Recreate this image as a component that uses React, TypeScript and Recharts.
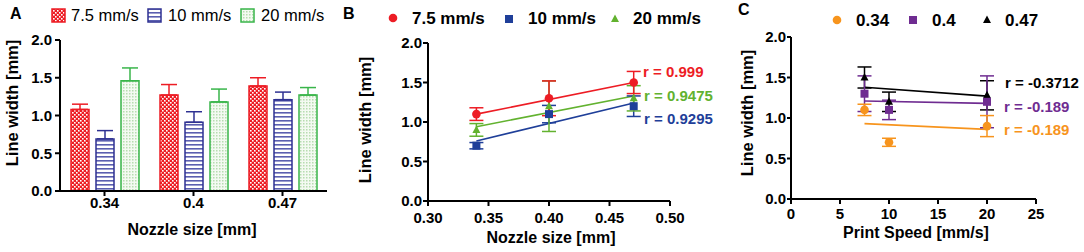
import React from 'react';
import { BarChart, Bar, ComposedChart, Scatter, Line, XAxis, YAxis, ErrorBar } from 'recharts';

const FONT = '"Liberation Sans", Arial, sans-serif';

// A: bar chart, line width per nozzle size
const nozzleSizes = ['0.34', '0.4', '0.47'];
const barWidth75 = [1.08, 1.27, 1.39];
const barWidth10 = [0.69, 0.91, 1.21];
const barWidth20 = [1.46, 1.18, 1.27];
const barErr75 = [0.07, 0.14, 0.11];
const barErr10 = [0.11, 0.14, 0.1];
const barErr20 = [0.17, 0.17, 0.1];

// B: line width vs nozzle size
const nozzleX = [0.34, 0.4, 0.47];
const lwB75 = [1.1, 1.3, 1.5];
const lwB10 = [0.7, 1.1, 1.2];
const lwB20 = [0.9, 1.2, 1.3];
const errB75 = [0.08, 0.22, 0.14];
const errB10 = [0.04, 0.11, 0.13];
const errB20 = [0.08, 0.32, 0.16];
const fitXB = [0.34, 0.47];
const fitB75 = [1.1, 1.5];
const fitB10 = [0.76, 1.24];
const fitB20 = [0.94, 1.33];
const nozzleTicks = [0.3, 0.35, 0.4, 0.45, 0.5];

// C: line width vs print speed
const speeds = [7.5, 10, 20];
const lwC034 = [1.1, 0.7, 0.9];
const lwC04 = [1.3, 1.1, 1.2];
const lwC047 = [1.5, 1.2, 1.28];
const errC034 = [0.07, 0.05, 0.13];
const errC04 = [0.22, 0.12, 0.32];
const errC047 = [0.13, 0.12, 0.18];
const fitXC = [7.5, 20];
const fitC034 = [0.93, 0.86];
const fitC04 = [1.21, 1.18];
const fitC047 = [1.38, 1.27];
const speedTicks = [0, 5, 10, 15, 20, 25];

const widthTicks = [0, 0.5, 1, 1.5, 2];

const RED = '#ed1c24';
const NAVY = '#2e3192';
const GREEN = '#39b54a';
const BLUE_B = '#1f3f99';
const GREEN_B = '#62b22f';
const ORANGE = '#f7941d';
const PURPLE = '#6f2c91';

const barData = nozzleSizes.map((n, i) => ({
  n,
  v75: barWidth75[i], e75: barErr75[i],
  v10: barWidth10[i], e10: barErr10[i],
  v20: barWidth20[i], e20: barErr20[i],
}));

const pts = (xs: number[], ys: number[], es?: number[]) =>
  xs.map((x, i) => ({ x, y: ys[i], e: es ? es[i] : 0 }));

const tickStyle = { fill: '#000', fontSize: 15, fontWeight: 700, fontFamily: FONT };
const axisLine = { stroke: '#000', strokeWidth: 2 };

// point markers, sized like the original plot
const dotShape = (kind: string) => (p: any) => {
  const { cx, cy, fill } = p;
  if (kind === 'circle') return <circle cx={cx} cy={cy} r={4.3} fill={fill} />;
  if (kind === 'square') return <rect x={cx - 4} y={cy - 4} width={8} height={8} fill={fill} />;
  return <path d={`M${cx} ${cy - 4.5} L${cx + 4} ${cy + 3} L${cx - 4} ${cy + 3} Z`} fill={fill} />;
};

const Txt = ({ x, cy, size = 15, bold = true, color = '#000', center = false, children }: any) => (
  <div
    style={{
      position: 'absolute', left: x, top: cy, fontSize: size, fontWeight: bold ? 700 : 400,
      color, fontFamily: FONT, lineHeight: 1, whiteSpace: 'nowrap',
      transform: center ? 'translate(-50%, -50%)' : 'translateY(-50%)',
    }}
  >
    {children}
  </div>
);

const YTitle = ({ cx, cy }: { cx: number; cy: number }) => (
  <div
    style={{
      position: 'absolute', left: cx, top: cy, fontSize: 16.5, fontWeight: 700, fontFamily: FONT,
      lineHeight: 1, whiteSpace: 'nowrap', transform: 'translate(-50%, -50%) rotate(-90deg)',
    }}
  >
    Line width [mm]
  </div>
);

const Marker = ({ cx, cy, kind, color }: { cx: number; cy: number; kind: string; color: string }) => (
  <svg width={12} height={12} style={{ position: 'absolute', left: cx - 6, top: cy - 6 }}>
    {kind === 'circle' && <circle cx={6} cy={6} r={4.3} fill={color} />}
    {kind === 'square' && <rect x={2} y={2} width={8} height={8} fill={color} />}
    {kind === 'triangle' && <path d="M6 1.5 L10 9 L2 9 Z" fill={color} />}
  </svg>
);

const Swatch = ({ x, pattern, color }: { x: number; pattern: string; color: string }) => (
  <svg width={15} height={15} style={{ position: 'absolute', left: x, top: 8 }}>
    <rect x={1} y={1} width={13} height={13} fill={`url(#${pattern})`} stroke={color} strokeWidth={1.5} />
  </svg>
);

const Patterns = () => (
  <svg width={0} height={0} style={{ position: 'absolute' }}>
    <defs>
      <pattern id="patRed" width={4} height={4} patternUnits="userSpaceOnUse">
        <rect width={4} height={4} fill={RED} />
        <rect width={1.6} height={1.6} fill="#fff" />
        <rect x={2} y={2} width={1.6} height={1.6} fill="#fff" />
      </pattern>
      <pattern id="patBlue" width={4} height={4} patternUnits="userSpaceOnUse">
        <rect width={4} height={4} fill="#fff" />
        <rect y={0} width={4} height={1.6} fill="#5b5fb0" />
      </pattern>
      <pattern id="patGreen" width={3} height={3} patternUnits="userSpaceOnUse">
        <rect width={3} height={3} fill="#f4faf2" />
        <rect width={1.5} height={1.5} fill="#b7ddb0" />
      </pattern>
    </defs>
  </svg>
);

const PanelA = () => (
  <div style={{ position: 'absolute', left: 0, top: 0 }}>
    <BarChart width={340} height={252} data={barData} barSize={18} barGap={7}
      margin={{ top: 40, right: 13, left: 0, bottom: 21 }}>
      <XAxis dataKey="n" height={40} tick={tickStyle} axisLine={axisLine} tickLine={axisLine}
        tickSize={5} tickMargin={1} />
      <YAxis width={60} domain={[0, 2]} ticks={widthTicks} tick={tickStyle} axisLine={axisLine}
        tickLine={axisLine} tickSize={5} tickMargin={3} tickFormatter={(v: number) => v.toFixed(1)} />
      <Bar dataKey="v75" fill="url(#patRed)" stroke={RED} strokeWidth={1.5} isAnimationActive={false}>
        <ErrorBar dataKey={(d: any) => [0, d.e75]} width={8} stroke={RED} strokeWidth={1.5} />
      </Bar>
      <Bar dataKey="v10" fill="url(#patBlue)" stroke={NAVY} strokeWidth={1.5} isAnimationActive={false}>
        <ErrorBar dataKey={(d: any) => [0, d.e10]} width={8} stroke={NAVY} strokeWidth={1.5} />
      </Bar>
      <Bar dataKey="v20" fill="url(#patGreen)" stroke={GREEN} strokeWidth={1.5} isAnimationActive={false}>
        <ErrorBar dataKey={(d: any) => [0, d.e20]} width={8} stroke={GREEN} strokeWidth={1.5} />
      </Bar>
    </BarChart>
    <Txt x={10} cy={14} size={16}>A</Txt>
    <Swatch x={51} pattern="patRed" color={RED} />
    <Txt x={71} cy={15} size={16.5} bold={false}>7.5 mm/s</Txt>
    <Swatch x={147} pattern="patBlue" color={NAVY} />
    <Txt x={168} cy={15} size={16.5} bold={false}>10 mm/s</Txt>
    <Swatch x={240} pattern="patGreen" color={GREEN} />
    <Txt x={261} cy={15} size={16.5} bold={false}>20 mm/s</Txt>
    <YTitle cx={12} cy={103} />
    <Txt x={192} cy={230} size={16} center>Nozzle size [mm]</Txt>
  </div>
);

const PanelB = () => (
  <div style={{ position: 'absolute', left: 360, top: 0 }}>
    <ComposedChart width={330} height={252} margin={{ top: 43, right: 20, left: 0, bottom: 21 }}>
      <XAxis type="number" dataKey="x" domain={[0.3, 0.5]} ticks={nozzleTicks} height={30}
        tick={tickStyle} axisLine={axisLine} tickLine={axisLine} tickSize={5} tickMargin={6}
        tickFormatter={(v: number) => v.toFixed(2)} allowDataOverflow />
      <YAxis type="number" width={68} domain={[0, 2]} ticks={widthTicks} tick={tickStyle}
        axisLine={axisLine} tickLine={axisLine} tickSize={5} tickMargin={1}
        tickFormatter={(v: number) => v.toFixed(1)} allowDataOverflow />
      <Line data={pts(fitXB, fitB75)} dataKey="y" stroke={RED} strokeWidth={1.6} dot={false} isAnimationActive={false} />
      <Line data={pts(fitXB, fitB20)} dataKey="y" stroke={GREEN_B} strokeWidth={1.6} dot={false} isAnimationActive={false} />
      <Line data={pts(fitXB, fitB10)} dataKey="y" stroke={BLUE_B} strokeWidth={1.6} dot={false} isAnimationActive={false} />
      <Scatter data={pts(nozzleX, lwB10, errB10)} dataKey="y" fill={BLUE_B} shape={dotShape('square')} isAnimationActive={false}>
        <ErrorBar dataKey="e" direction="y" width={7} stroke={BLUE_B} strokeWidth={1.5} />
      </Scatter>
      <Scatter data={pts(nozzleX, lwB20, errB20)} dataKey="y" fill={GREEN_B} shape={dotShape('triangle')} isAnimationActive={false}>
        <ErrorBar dataKey="e" direction="y" width={7} stroke={GREEN_B} strokeWidth={1.5} />
      </Scatter>
      <Scatter data={pts(nozzleX, lwB75, errB75)} dataKey="y" fill={RED} shape={dotShape('circle')} isAnimationActive={false}>
        <ErrorBar dataKey="e" direction="y" width={7} stroke={RED} strokeWidth={1.5} />
      </Scatter>
    </ComposedChart>
    <Txt x={-17} cy={14} size={16}>B</Txt>
    <Marker cx={33} cy={18} kind="circle" color={RED} />
    <Txt x={52} cy={18} size={17}>7.5 mm/s</Txt>
    <Marker cx={149} cy={19} kind="square" color={BLUE_B} />
    <Txt x={168} cy={18} size={17}>10 mm/s</Txt>
    <Marker cx={255} cy={19} kind="triangle" color={GREEN_B} />
    <Txt x={273} cy={18} size={17}>20 mm/s</Txt>
    <Txt x={283} cy={71} color={RED}>r = 0.999</Txt>
    <Txt x={284} cy={95} color={GREEN_B}>r = 0.9475</Txt>
    <Txt x={284} cy={118} color={BLUE_B}>r = 0.9295</Txt>
    <YTitle cx={5} cy={120} />
    <Txt x={191} cy={238} size={16} center>Nozzle size [mm]</Txt>
  </div>
);

const PanelC = () => (
  <div style={{ position: 'absolute', left: 730, top: 0 }}>
    <ComposedChart width={326} height={252} margin={{ top: 37, right: 20, left: 0, bottom: 23 }}>
      <XAxis type="number" dataKey="x" domain={[0, 25]} ticks={speedTicks} height={30}
        tick={tickStyle} axisLine={axisLine} tickLine={axisLine} tickSize={5} tickMargin={4}
        allowDataOverflow />
      <YAxis type="number" width={61} domain={[0, 2]} ticks={widthTicks} tick={tickStyle}
        axisLine={axisLine} tickLine={axisLine} tickSize={4} tickMargin={1}
        tickFormatter={(v: number) => v.toFixed(1)} allowDataOverflow />
      <Line data={pts(fitXC, fitC047)} dataKey="y" stroke="#000" strokeWidth={1.6} dot={false} isAnimationActive={false} />
      <Line data={pts(fitXC, fitC04)} dataKey="y" stroke={PURPLE} strokeWidth={1.6} dot={false} isAnimationActive={false} />
      <Line data={pts(fitXC, fitC034)} dataKey="y" stroke={ORANGE} strokeWidth={1.6} dot={false} isAnimationActive={false} />
      <Scatter data={pts(speeds, lwC047, errC047)} dataKey="y" fill="#000" shape={dotShape('triangle')} isAnimationActive={false}>
        <ErrorBar dataKey="e" direction="y" width={7} stroke="#000" strokeWidth={1.5} />
      </Scatter>
      <Scatter data={pts(speeds, lwC04, errC04)} dataKey="y" fill={PURPLE} shape={dotShape('square')} isAnimationActive={false}>
        <ErrorBar dataKey="e" direction="y" width={7} stroke={PURPLE} strokeWidth={1.5} />
      </Scatter>
      <Scatter data={pts(speeds, lwC034, errC034)} dataKey="y" fill={ORANGE} shape={dotShape('circle')} isAnimationActive={false}>
        <ErrorBar dataKey="e" direction="y" width={7} stroke={ORANGE} strokeWidth={1.5} />
      </Scatter>
    </ComposedChart>
    <Txt x={8} cy={10} size={16}>C</Txt>
    <Marker cx={107} cy={20} kind="circle" color={ORANGE} />
    <Txt x={126} cy={20} size={17}>0.34</Txt>
    <Marker cx={183} cy={20} kind="square" color={PURPLE} />
    <Txt x={202} cy={20} size={17}>0.4</Txt>
    <Marker cx={257} cy={20} kind="triangle" color="#000" />
    <Txt x={275} cy={20} size={17}>0.47</Txt>
    <Txt x={275} cy={82}>r = -0.3712</Txt>
    <Txt x={274} cy={106} color={PURPLE}>r = -0.189</Txt>
    <Txt x={274} cy={129} color={ORANGE}>r = -0.189</Txt>
    <YTitle cx={17} cy={113} />
    <Txt x={186} cy={233} size={16} center>Print Speed [mm/s]</Txt>
  </div>
);

export default function App() {
  return (
    <div style={{ position: 'absolute', left: 0, top: 0, width: 1084, height: 252, background: '#fff', overflow: 'hidden' }}>
      <Patterns />
      <PanelA />
      <PanelB />
      <PanelC />
    </div>
  );
}
